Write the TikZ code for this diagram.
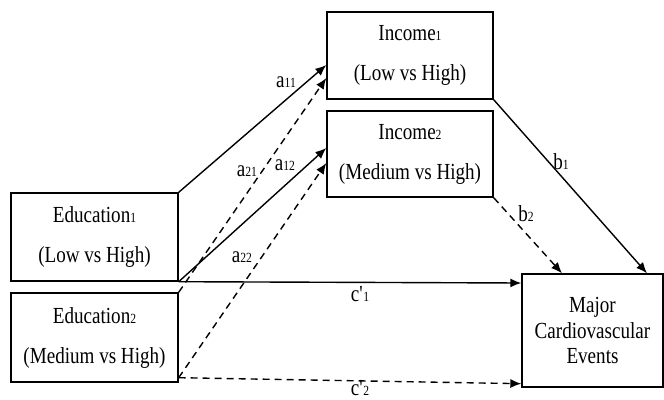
\documentclass[tikz,border=0pt]{standalone}
\usepackage{fontspec}
\setmainfont{Liberation Serif}[FakeStretch=0.83]
\usetikzlibrary{arrows.meta}
\newcommand{\low}[1]{{\fontsize{14}{14}\selectfont #1}}

\begin{document}
\begin{tikzpicture}[x=1pt, y=-1pt, line width=1.4pt, >={Latex[length=11pt,width=9pt]},
    box/.style={draw, rectangle, align=center, inner sep=0pt, font=\fontsize{23}{40}\selectfont},
    lbl/.style={inner sep=0pt, font=\fontsize{23}{23}\selectfont},
    dsh/.style={dash pattern=on 7pt off 5pt}]
      \clip (0,0) rectangle (664,399); % page frame
      % boxes
      \node[box, minimum width=167pt, minimum height=88pt] (edu1) at (94.5,237) {Education\low{1}\\(Low vs High)};
      \node[box, minimum width=167pt, minimum height=89pt] (edu2) at (94.5,337.5) {Education\low{2}\\(Medium vs High)};
      \node[box, minimum width=166pt, minimum height=87pt] (inc1) at (410,55.5) {Income\low{1}\\(Low vs High)};
      \node[box, minimum width=166pt, minimum height=86pt] (inc2) at (410,154) {Income\low{2}\\(Medium vs High)};
      \node[box, minimum width=141pt, minimum height=113pt, font=\fontsize{23}{25.5}\selectfont] (mace) at (592.5,330.5) {Major\\Cardiovascular\\Events};
      % paths
      \draw[->] (edu1.north east) -- ([yshift=-9.5pt]inc1.west);
      \draw[->, dsh] (edu2.north east) -- ([yshift=-22.5pt]inc1.west);
      \draw[->] (edu1.south east) -- ([yshift=6pt]inc2.west);
      \draw[->, dsh] ([yshift=5pt]edu2.south east) -- ([yshift=-9pt]inc2.west);
      \draw[->] (edu1.south east) -- ([yshift=47.5pt]mace.west);
      \draw[->, dsh] ([yshift=5pt]edu2.south east) -- ([yshift=4pt]mace.south west);
      \draw[->] (inc1.south east) -- ([xshift=54.5pt]mace.north);
      \draw[->, dsh] (inc2.south east) -- ([xshift=-30.5pt]mace.north);
      % labels
      \node[lbl] (la11) at (286,82) {a\low{11}};
      \node[lbl] (la21) at (247,171) {a\low{21}};
      \node[lbl] (la12) at (285,165) {a\low{12}};
      \node[lbl] (la22) at (242,257) {a\low{22}};
      \node[lbl] (lb1) at (561,162) {b\low{1}};
      \node[lbl] (lb2) at (526,214) {b\low{2}};
      \node[lbl] (lc1) at (360,294) {c\textquotesingle\low{1}};
      \node[lbl] (lc2) at (360,388) {c\textquotesingle\low{2}};
  \end{tikzpicture}
\end{document}
